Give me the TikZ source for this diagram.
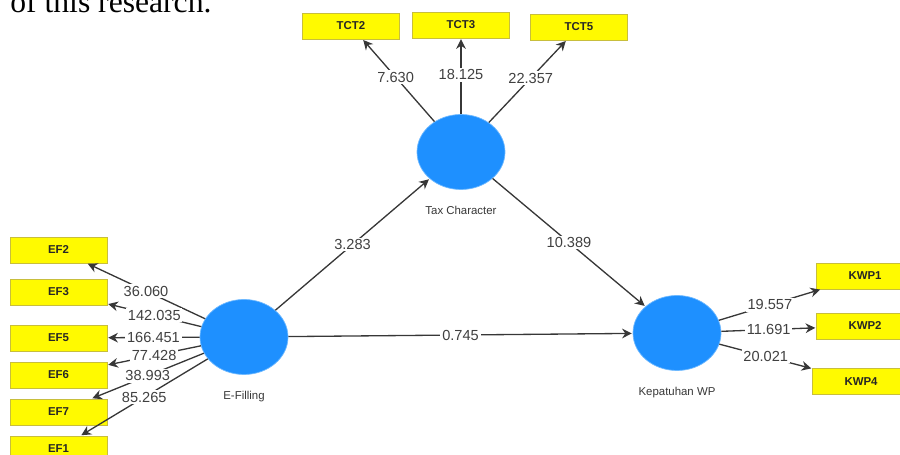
\documentclass[tikz,border=0pt]{standalone}
\usepackage{fontspec}
\setmainfont{Liberation Sans}
\newfontfamily\bodyserif{Liberation Serif}
\usepackage{tikz}
\usetikzlibrary{shapes.geometric, arrows.meta, positioning}
\definecolor{latentblue}{RGB}{30,144,255}
\definecolor{latentrim}{RGB}{110,185,255}
\definecolor{boxyellow}{RGB}{255,250,0}
\definecolor{boxrim}{RGB}{200,190,60}
\definecolor{pathgray}{RGB}{55,55,55}
\tikzstyle{latent} = [ellipse, minimum width=1.76cm, minimum height=1.5cm, fill=latentblue, draw=latentrim, line width=0.4pt]
\tikzstyle{caption} = [font=\fontsize{6.5}{7}\selectfont, text=pathgray]
\tikzstyle{indicator} = [rectangle, minimum width=1.94cm, minimum height=0.52cm, text centered, draw=boxrim, fill=boxyellow, font=\fontsize{6.5}{7}\selectfont\bfseries, text=black!85]
\tikzstyle{path} = [draw=pathgray, line width=0.75pt, -{Stealth[length=5.5pt,width=5.5pt]}, shorten >=0.5pt]
\tikzstyle{weight} = [midway, fill=white, inner sep=1pt, font=\fontsize{8.3}{9}\selectfont, text=black!75]

\begin{document}
\begin{tikzpicture}[node distance=0.74cm]
\useasboundingbox (0,0) rectangle (18,9.1);
\clip (0,0) rectangle (18,9.1);

% text cut off above the figure
\node (cutline) [anchor=base west, inner sep=0pt, font=\bodyserif\fontsize{18}{20}\selectfont] at (0.2,8.84) {of this research.};

% latent variables
\node (tax) [latent] at (9.22,6.06) {};
\node (efil) [latent] at (4.88,2.36) {};
\node (kep) [latent] at (13.54,2.44) {};
\node (taxcap) [caption, below=0.2cm of tax] {Tax Character};
\node (efilcap) [caption, below=0.2cm of efil] {E-Filling};
\node (kepcap) [caption, below=0.2cm of kep] {Kepatuhan WP};

% indicators
\node (tct3) [indicator] at (9.22,8.6) {TCT3};
\node (tct2) [indicator, left of=tct3, xshift=-1.46cm, yshift=-0.02cm] {TCT2};
\node (tct5) [indicator, right of=tct3, xshift=1.62cm, yshift=-0.04cm] {TCT5};

\node (ef2) [indicator] at (1.17,4.1) {EF2};
\node (ef3) [indicator, below of=ef2, yshift=-0.1cm] {EF3};
\node (ef5) [indicator, below of=ef3, yshift=-0.18cm] {EF5};
\node (ef6) [indicator, below of=ef5] {EF6};
\node (ef7) [indicator, below of=ef6] {EF7};
\node (ef1) [indicator, below of=ef7] {EF1};

\node (kwp1) [indicator] at (17.3,3.58) {KWP1};
\node (kwp2) [indicator, below of=kwp1, yshift=-0.26cm] {KWP2};
\node (kwp4) [indicator, below of=kwp2, xshift=-0.08cm, yshift=-0.37cm] {KWP4};

% inner model
\draw [path] (efil) -- node[weight] {3.283} (tax);
\draw [path] (tax) -- node[weight] {10.389} (kep);
\draw [path] (efil) -- node[weight] {0.745} (kep);

% outer loadings
\draw [path] (tax) -- node[weight, pos=0.54] {7.630} (tct2);
\draw [path] (tax) -- node[weight, pos=0.52] {18.125} (tct3);
\draw [path] (tax) -- node[weight, pos=0.54] {22.357} (tct5);

\draw [path] (efil) -- node[weight] {36.060} (ef2);
\draw [path] (efil) -- node[weight] {142.035} (ef3);
\draw [path] (efil) -- node[weight] {166.451} (ef5);
\draw [path] (efil) -- node[weight] {77.428} (ef6);
\draw [path] (efil) -- node[weight] {38.993} (ef7);
\draw [path] (efil) -- node[weight] {85.265} (ef1);

\draw [path] (kep) -- node[weight] {19.557} (kwp1);
\draw [path] (kep) -- node[weight] {11.691} (kwp2);
\draw [path] (kep) -- node[weight] {20.021} (kwp4);

\end{tikzpicture}
\end{document}
